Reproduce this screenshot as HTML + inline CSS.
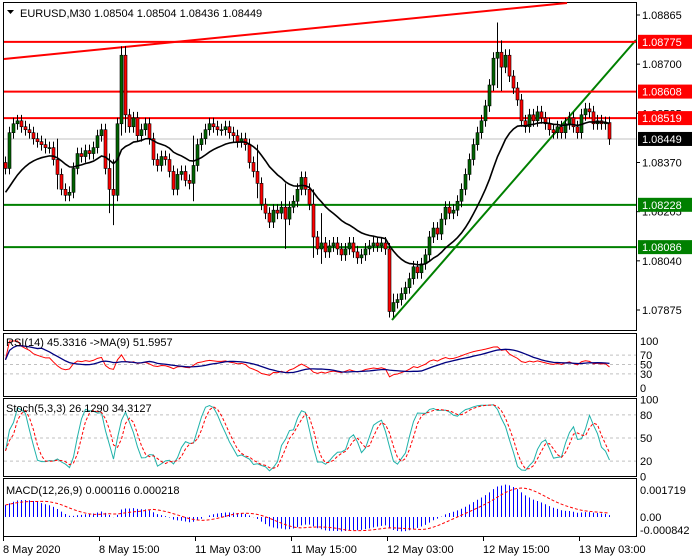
<!DOCTYPE html>
<html><head><meta charset="utf-8"><style>
body{margin:0;background:#fff;}
svg{display:block;font-family:"Liberation Sans",sans-serif;}
</style></head><body>
<svg id="c" width="700" height="560" xmlns="http://www.w3.org/2000/svg"></svg>
<script>
const closes=[1.0835,1.0847,1.0850,1.0851,1.0849,1.0848,1.0847,1.0845,1.0844,1.0843,1.0842,1.0842,1.0838,1.0833,1.0828,1.0826,1.0827,1.0835,1.0840,1.0839,1.0841,1.0840,1.0842,1.0846,1.0848,1.0835,1.0828,1.0826,1.0850,1.0873,1.0853,1.0849,1.0852,1.0846,1.0848,1.0850,1.0845,1.0838,1.0836,1.0839,1.0838,1.0834,1.0828,1.0833,1.0834,1.0831,1.0830,1.0836,1.0843,1.0845,1.0848,1.0850,1.0849,1.0848,1.0848,1.0849,1.0847,1.0846,1.0844,1.0845,1.0843,1.0837,1.0834,1.0830,1.0823,1.0820,1.0817,1.0821,1.0820,1.0822,1.0818,1.0822,1.0824,1.0828,1.0832,1.0828,1.0823,1.0812,1.0808,1.0810,1.0807,1.0809,1.0810,1.0808,1.0806,1.0808,1.0810,1.0807,1.0805,1.0806,1.0808,1.0809,1.0810,1.0809,1.0810,1.0808,1.0787,1.0790,1.0791,1.0793,1.0795,1.0798,1.0802,1.0800,1.0803,1.0806,1.0812,1.0815,1.0813,1.0818,1.0822,1.0820,1.0821,1.0824,1.0828,1.0833,1.0838,1.0843,1.0847,1.0851,1.0856,1.0863,1.0872,1.0874,1.0869,1.0873,1.0866,1.0862,1.0858,1.0851,1.0849,1.0853,1.0851,1.0854,1.0852,1.0850,1.0848,1.0847,1.0849,1.0847,1.0850,1.0852,1.0849,1.0847,1.0853,1.0855,1.0854,1.0850,1.0851,1.0850,1.08504,1.08449];
const spikeIdx=[13,26,27,29,30,47,63,70,77,79,96,97,123,124];
const spikeHigh=[1.0845,1.0840,1.0838,1.0876,1.0876,1.0846,1.0843,1.0830,1.0828,1.0820,1.0810,1.0793,1.0884,1.0878];
const spikeLow=[1.0828,1.0820,1.0816,1.0846,1.0847,1.0824,1.0825,1.0808,1.0805,1.0803,1.0786,1.0785,1.0862,1.0861];
const priceTicks=[1.08865,1.08700,1.08535,1.08370,1.08205,1.08040,1.07875];
const resLevels=[1.08775,1.08608,1.08519];
const supLevels=[1.08228,1.08086];
const lastPrice=1.08449;
const timeLabels=["8 May 2020","8 May 15:00","11 May 03:00","11 May 15:00","12 May 03:00","12 May 15:00","13 May 03:00"];
const timeIdx=[0,24,48,72,96,120,144];

const S=document.getElementById('c');const NS='http://www.w3.org/2000/svg';
function el(t,a,p){const e=document.createElementNS(NS,t);for(const k in a)e.setAttribute(k,a[k]);(p||S).appendChild(e);return e;}
const X=i=>5+4*i;
const PY=p=>15+(1.08865-p)*29798;
const RY=v=>388-v*0.47;
const SY=v=>476.5-v*0.77;
const MY=v=>517-v*20000;
const R=636;
const n=closes.length;
const opens=closes.map((c,i)=>i?closes[i-1]:c+0.0002);
const highs=closes.map((c,i)=>Math.max(c,opens[i])+0.0002);
const lows=closes.map((c,i)=>Math.min(c,opens[i])-0.0002);
spikeIdx.forEach((k,j)=>{highs[k]=Math.max(highs[k],spikeHigh[j]);lows[k]=Math.min(lows[k],spikeLow[j]);});

[[3,2,330],[3,333,396],[3,398,476],[3,478,536]].forEach((f,j)=>{const r=el('rect',{x:3.5,y:f[1]+.5,width:R-3,height:f[2]-f[1],fill:'none',stroke:'#000'});
});

priceTicks.forEach(p=>{el('line',{x1:R,x2:R+4,y1:PY(p),y2:PY(p),stroke:'#000'});
const t=el('text',{x:642,y:PY(p)+4,'font-size':11});t.textContent=p.toFixed(5);});
el('line',{x1:4,x2:R,y1:PY(lastPrice),y2:PY(lastPrice),stroke:'#c0c0c0'});
const tr=el('line',{x1:4,y1:59,x2:567,y2:3,stroke:'#ff0000','stroke-width':2});
const tg=el('line',{x1:392,y1:320,x2:R,y2:40,stroke:'#008000','stroke-width':2});
function level(p,col,name){const l=el('line',{x1:4,x2:R,y1:PY(p),y2:PY(p),stroke:col,'stroke-width':2});}
resLevels.forEach(p=>level(p,'#ff0000','resistance-level'));
supLevels.forEach(p=>level(p,'#008000','support-level'));

for(let i=0;i<n;i++){const x=X(i),o=opens[i],c=closes[i];const g=el('g',{});

el('line',{x1:x+.5,x2:x+.5,y1:PY(highs[i]),y2:PY(lows[i]),stroke:'#000'},g);
const top=PY(Math.max(o,c)),bot=PY(Math.min(o,c));
el('rect',{x:x-1,y:top,width:3,height:Math.max(1,bot-top),fill:c>=o?'#006400':'#ff0000',stroke:'#000','stroke-width':.6},g);}
const ma=[];closes.forEach((c,i)=>ma.push(i?ma[i-1]+(c-ma[i-1])*2/21:c-0.0008));
const mp=el('polyline',{points:ma.map((v,i)=>X(i)+.5+','+PY(v)).join(' '),fill:'none',stroke:'#000','stroke-width':1.6});

function box(p,bg,name){const g=el('g',{});
el('rect',{x:638,y:PY(p)-7,width:54,height:14,fill:bg},g);const t=el('text',{x:642,y:PY(p)+4,'font-size':11,fill:'#fff'},g);t.textContent=p.toFixed(5);}
resLevels.forEach(p=>box(p,'#ff0000','resistance-price-tag'));
supLevels.forEach(p=>box(p,'#008000','support-price-tag'));
box(lastPrice,'#000','last-price-tag');

const tt=el('text',{x:20,y:17,'font-size':11});tt.textContent='EURUSD,M30  1.08504 1.08504 1.08436 1.08449';
el('path',{d:'M7 10 L14 10 L10.5 14 Z',fill:'#000'});

const rsi=[];let ag=0,al=0;for(let i=0;i<n;i++){if(i==0){rsi.push(60);continue;}const d=closes[i]-closes[i-1];const g=Math.max(d,0),l=Math.max(-d,0);
if(i<=14){ag=(ag*(i-1)+g)/i;al=(al*(i-1)+l)/i;}else{ag=(ag*13+g)/14;al=(al*13+l)/14;}rsi.push(al==0?100:100-100/(1+ag/al));}
const rsiMa=rsi.map((v,i)=>{let s=0,k=0;for(let j=Math.max(0,i-8);j<=i;j++){s+=rsi[j];k++;}return s/k;});
function hgrid(ys){ys.forEach(y=>el('line',{x1:4,x2:R,y1:y,y2:y,stroke:'#c0c0c0','stroke-dasharray':'3,3'}));}
hgrid([70,50,30].map(RY));hgrid([80,50,20].map(SY));
[100,70,50,30,0].forEach(v=>{const t=el('text',{x:640,y:RY(v)+4,'font-size':11});t.textContent=v;});
[100,80,50,20,0].forEach(v=>{const t=el('text',{x:640,y:SY(v)+4,'font-size':11});t.textContent=v;});
function line(arr,fy,col,dash,name,w){const p=el('polyline',{points:arr.map((v,i)=>X(i)+.5+','+fy(v)).join(' '),fill:'none',stroke:col,'stroke-width':w||1});if(dash)p.setAttribute('stroke-dasharray',dash);}
line(rsi,RY,'#ff0000',null,'rsi-line');line(rsiMa,RY,'#000080',null,'rsi-ma-line',1.3);
let t=el('text',{x:6,y:346,'font-size':11});t.textContent='RSI(14) 45.3316  ->MA(9) 51.5957';

const kr=[];for(let i=0;i<n;i++){let hh=-1,ll=9;for(let j=Math.max(0,i-4);j<=i;j++){hh=Math.max(hh,highs[j]);ll=Math.min(ll,lows[j]);}kr.push(hh>ll?(closes[i]-ll)/(hh-ll)*100:50);}
const sm=(a,p)=>a.map((v,i)=>{let s=0,k=0;for(let j=Math.max(0,i-p+1);j<=i;j++){s+=a[j];k++;}return s/k;});
const K=sm(kr,3),D=sm(K,3);
line(K,SY,'#20b2aa',null,'stoch-main-line');line(D,SY,'#ff0000','3,2','stoch-signal-line');
t=el('text',{x:6,y:412,'font-size':11});t.textContent='Stoch(5,3,3) 26.1290 34.3127';

const ema=(a,p,s)=>{const k=2/(p+1);const o=[];a.forEach((v,i)=>o.push(i?v*k+o[i-1]*(1-k):s));return o;};
const e12=ema(closes,12,closes[0]-0.0004),e26=ema(closes,26,closes[0]-0.0010);const macd=e12.map((v,i)=>v-e26[i]);const sig=sm(macd,9);
macd.forEach((v,i)=>{const b=el('line',{x1:X(i)+.5,x2:X(i)+.5,y1:MY(0),y2:MY(v),stroke:'#0000ff'});});
line(sig,MY,'#ff0000','3,2','macd-signal-line');
[[490,'0.001719'],[517,'0.00'],[530,'-0.000842']].forEach(a=>{const tx=el('text',{x:640,y:a[0]+4,'font-size':11});tx.textContent=a[1];});
t=el('text',{x:6,y:494,'font-size':11});t.textContent='MACD(12,26,9) 0.000116 0.000218';

timeLabels.forEach((s,j)=>{const x=X(timeIdx[j])-2;el('line',{x1:x+.5,x2:x+.5,y1:536,y2:541,stroke:'#000'});
const tx=el('text',{x:x,y:553,'font-size':11});tx.textContent=s;});
</script>
</body></html>
